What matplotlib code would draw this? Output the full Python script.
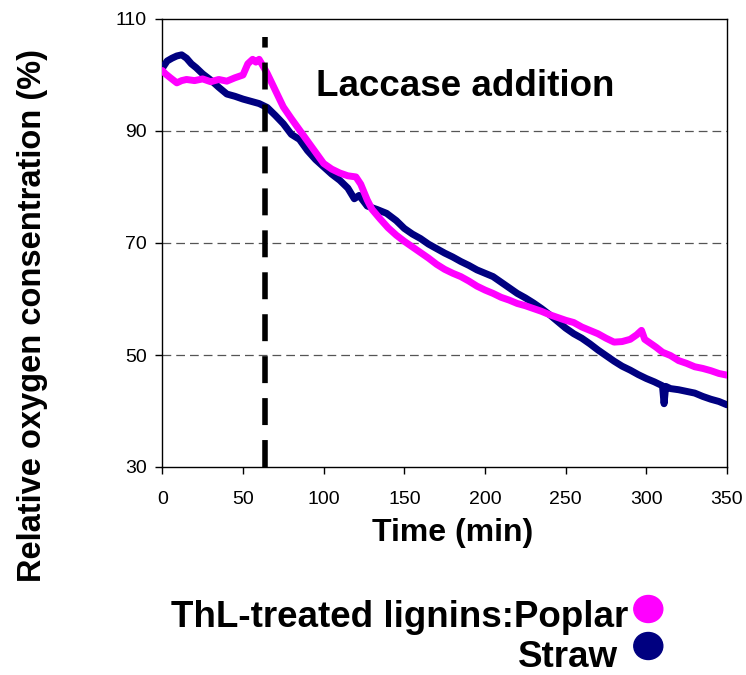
import matplotlib
matplotlib.use("Agg")
import matplotlib.pyplot as plt
from matplotlib.patches import Ellipse

plt.rcParams['font.family'] = ['Liberation Sans', 'DejaVu Sans']

# ---- data ----
series_names = ["Poplar", "Straw"]
series_colors = ["#FF00FF", "#000080"]

poplar_t = [0, 2, 5, 9, 12, 15, 20, 25, 30, 35, 40, 45, 50, 53, 56, 58, 60, 62, 65, 69,
            75, 80, 85, 90, 95, 100, 105, 110, 115, 120, 123, 127, 130, 135, 140, 145,
            150, 155, 160, 165, 170, 175, 180, 185, 190, 195, 200, 205, 210, 215, 220,
            225, 230, 235, 240, 245, 250, 255, 260, 265, 270, 275, 280, 285, 290, 294,
            297, 299, 302, 306, 310, 315, 320, 325, 330, 335, 340, 345, 350]
poplar_v = [100.8, 100.2, 99.5, 98.6, 99.0, 99.2, 99.0, 99.3, 98.8, 99.2, 98.9, 99.5,
            100.0, 102.0, 102.8, 102.3, 102.8, 101.8, 100.3, 97.9, 94.3, 92.2, 90.2,
            88.2, 86.2, 84.2, 83.2, 82.5, 82.0, 81.8, 80.5, 77.7, 76.0, 74.3, 72.7,
            71.4, 70.3, 69.3, 68.3, 67.3, 66.2, 65.3, 64.6, 64.0, 63.2, 62.3, 61.6,
            61.0, 60.3, 59.8, 59.2, 58.8, 58.3, 57.8, 57.2, 56.7, 56.2, 55.8, 55.0,
            54.4, 53.8, 53.0, 52.3, 52.4, 52.8, 53.6, 54.4, 52.8, 52.2, 51.4, 50.5,
            49.9, 49.0, 48.5, 47.9, 47.6, 47.2, 46.7, 46.4]

straw_t = [0, 3, 6, 9, 12, 15, 18, 21, 25, 30, 35, 40, 45, 50, 55, 60, 65, 70, 75, 80,
           85, 90, 95, 100, 105, 110, 115, 119, 122, 127, 133, 139, 145, 150, 155, 160,
           165, 170, 175, 180, 185, 190, 195, 200, 205, 210, 215, 220, 225, 230, 235,
           240, 245, 250, 255, 260, 265, 270, 275, 280, 285, 290, 295, 300, 305, 310,
           311, 312, 315, 320, 325, 330, 335, 340, 345, 350]
straw_v = [101.2, 102.5, 103.0, 103.4, 103.6, 103.0, 102.0, 101.3, 100.2, 99.1, 97.8,
           96.6, 96.2, 95.7, 95.3, 94.9, 94.2, 92.8, 91.3, 89.4, 88.5, 86.5, 84.9, 83.6,
           82.3, 81.2, 79.8, 77.9, 78.5, 76.6, 76.0, 75.3, 74.0, 72.6, 71.6, 70.8, 69.8,
           69.0, 68.2, 67.5, 66.7, 66.0, 65.2, 64.6, 64.0, 63.0, 62.0, 61.0, 60.2, 59.3,
           58.3, 57.2, 56.0, 54.8, 53.8, 53.0, 52.0, 50.9, 49.9, 48.9, 48.0, 47.3, 46.5,
           45.8, 45.2, 44.5, 41.3, 44.4, 44.0, 43.8, 43.5, 43.2, 42.6, 42.1, 41.7, 41.1]

laccase_time = 63.5
x_ticks = [0, 50, 100, 150, 200, 250, 300, 350]
y_ticks = [30, 50, 70, 90, 110]
grid_levels = [50, 70, 90]

W, H = 746, 675
fig = plt.figure(figsize=(W / 100, H / 100), dpi=100)
ax = fig.add_axes([162.3 / W, 1 - 467 / H, (727 - 162.3) / W, (467 - 19) / H])

for y in grid_levels:
    ax.axhline(y, color="#555555", lw=0.9, dashes=(7, 4), zorder=1)

ax.plot(straw_t, straw_v, color=series_colors[1], lw=5, solid_joinstyle="round",
        solid_capstyle="round", zorder=3)
ax.plot(poplar_t, poplar_v, color=series_colors[0], lw=5, solid_joinstyle="round",
        solid_capstyle="round", zorder=3)

ax.plot([laccase_time, laccase_time], [30, 106.8], color="black", lw=4,
        dashes=(4.85, 2.7), zorder=4)

ax.set_xlim(0, 350)
ax.set_ylim(30, 110)
ax.set_xticks(x_ticks)
ax.set_yticks(y_ticks)
ax.tick_params(direction="out", length=5, width=1, labelsize=14)
ax.tick_params(axis="y", pad=6)
ax.tick_params(axis="x", pad=12)
for s in ax.spines.values():
    s.set_linewidth(1)
    s.set_color("black")

fig.text(316 / W, 1 - 96.5 / H, "Laccase addition", fontsize=26.5, fontweight="bold",
         ha="left", va="baseline")
fig.text(453 / W, 1 - 541 / H, "Time (min)", fontsize=23, fontweight="bold",
         ha="center", va="baseline")
fig.text(33 / W, 1 - 316 / H, "Relative oxygen consentration (%)", fontsize=23.5,
         fontweight="bold", rotation=90, ha="center", va="center")

fig.text(628 / W, 1 - 627 / H, "ThL-treated lignins:" + series_names[0], fontsize=26.5,
         fontweight="bold", ha="right", va="baseline")
fig.text(518 / W, 1 - 667 / H, series_names[1], fontsize=26.5, fontweight="bold",
         ha="left", va="baseline")
for cy, col in zip([609, 646], series_colors):
    fig.add_artist(Ellipse((648.3 / W, 1 - cy / H), 29 / W, 27 / H, color=col,
                           transform=fig.transFigure))

fig.savefig("out.png", dpi=100)
